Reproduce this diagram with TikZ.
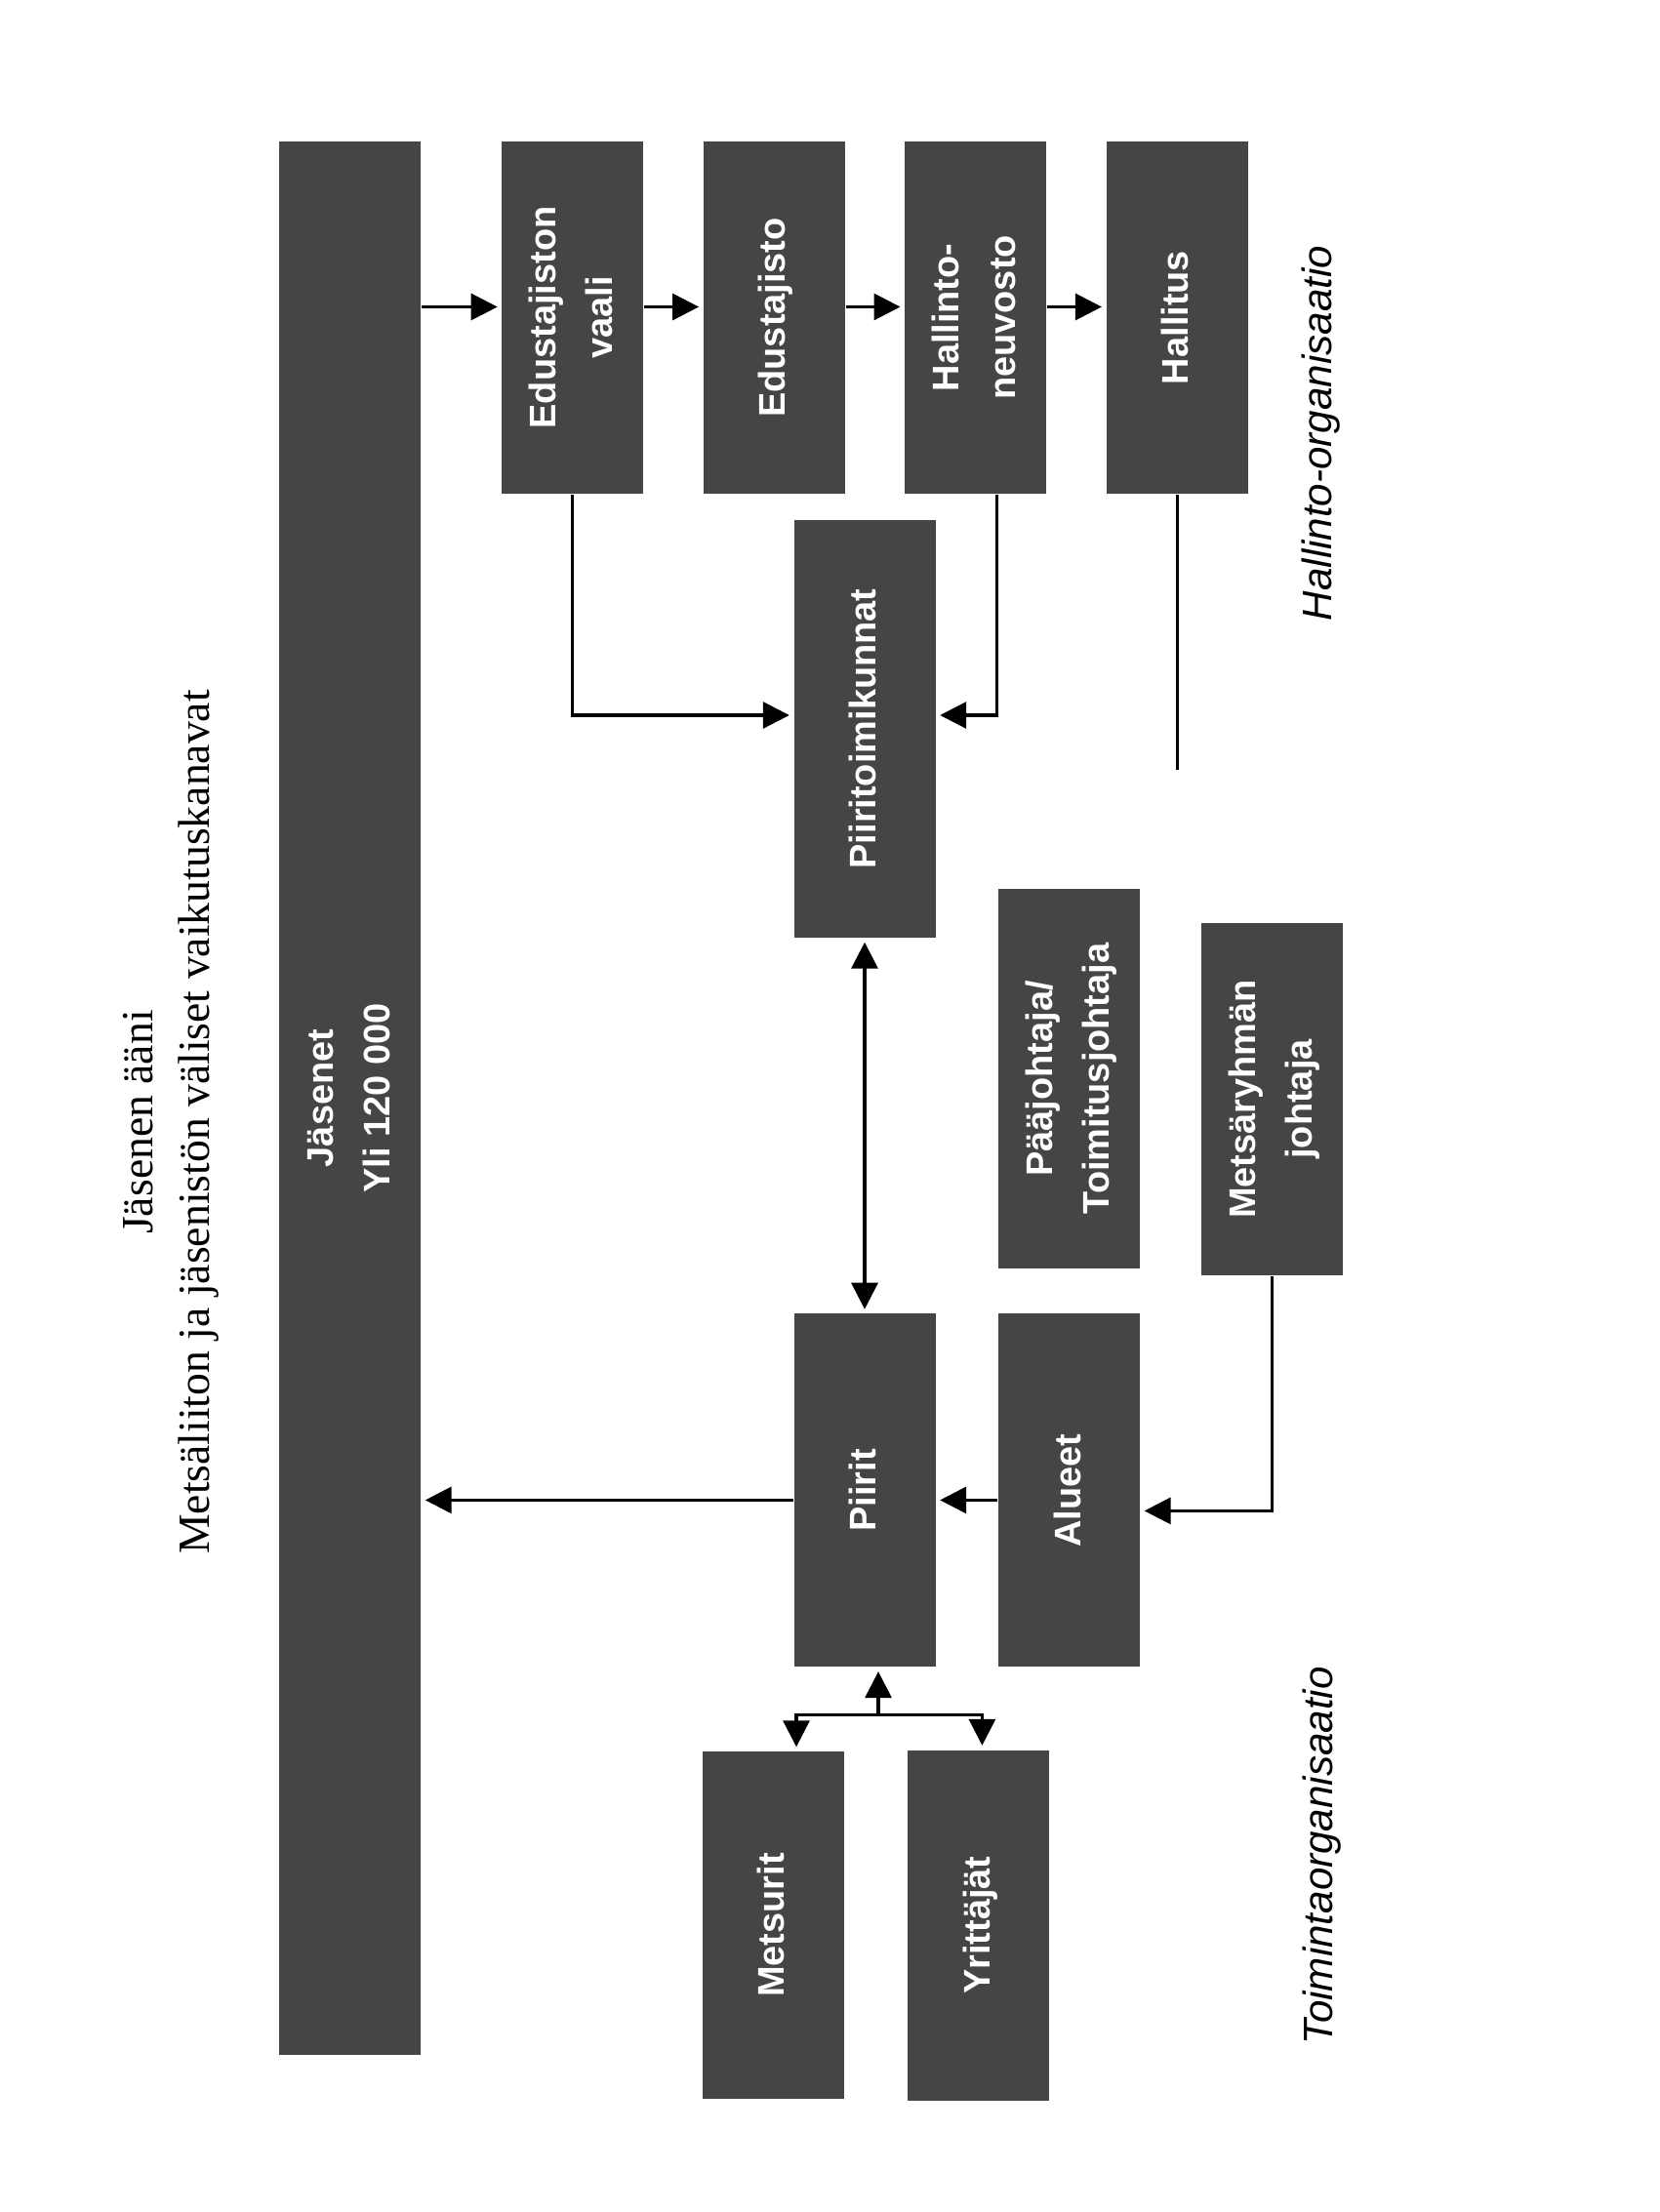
\documentclass[tikz,border=0pt]{standalone}
\usepackage{fontspec}
\setmainfont{Liberation Serif}
\setsansfont{Liberation Sans}
\usepackage{graphicx}
\usepackage{tikz}
\usetikzlibrary{arrows.meta, positioning, calc}

\definecolor{boxgray}{RGB}{69,69,69}
\newcommand{\vlabel}[1]{\rotatebox{90}{\begin{tabular}{@{}c@{}}#1\end{tabular}}}

\begin{document}
\begin{tikzpicture}[
        node distance=0.6cm,
        box/.style={
            fill=boxgray,
            text=white,
            minimum width=1.45cm,
            inner sep=0pt,
            font=\sffamily\bfseries\fontsize{10.8}{16.5}\selectfont
        },
        heading/.style={font=\rmfamily\fontsize{13}{16.5}\selectfont},
        orglabel/.style={font=\sffamily\itshape\fontsize{12}{14}\selectfont},
        arrow/.style={-{Triangle[length=2.7mm, width=2.7mm]}, line width=0.9pt, shorten >=0.4mm},
        dblarrow/.style={arrow, {Triangle[length=2.7mm, width=2.7mm]}-{Triangle[length=2.7mm, width=2.7mm]}, shorten <=0.4mm},
        link/.style={line width=0.9pt}
    ]

        \useasboundingbox (0,0) rectangle (17,-22.67);

        % Otsikko
        \node[heading] (title) at (1.74,-11.5)
            {\vlabel{Jäsenen ääni\\Metsäliiton ja jäsenistön väliset vaikutuskanavat}};

        % Jäsenet
        \node[box, minimum height=19.61cm] (jasenet) at (3.585,-11.255)
            {\vlabel{Jäsenet\\Yli 120 000}};

        % Hallinto-organisaatio
        \node[box, minimum height=3.61cm, below right=0cm and 0.82cm of jasenet.north east]
            (vaali) {\vlabel{Edustajiston\\vaali}};

        \node[box, minimum height=3.61cm, right=of vaali]
            (edustajisto) {\vlabel{Edustajisto}};

        \node[box, minimum height=3.61cm, right=of edustajisto]
            (neuvosto) {\vlabel{Hallinto-\\neuvosto}};

        \node[box, minimum height=3.61cm, right=of neuvosto]
            (hallitus) {\vlabel{Hallitus}};

        \node[box, minimum height=4.28cm] (piiritmk) at (8.86,-7.47)
            {\vlabel{Piiritoimikunnat}};

        % Toimintaorganisaatio
        \node[box, minimum height=3.62cm, below=3.84cm of piiritmk]
            (piirit) {\vlabel{Piirit}};

        \node[box, minimum height=3.62cm, right=0.63cm of piirit]
            (alueet) {\vlabel{Alueet}};

        \node[box, minimum height=3.89cm, above=0.45cm of alueet]
            (paajohtaja) {\vlabel{Pääjohtaja/\\Toimitusjohtaja}};

        \node[box, minimum height=3.61cm] (metsaryhma) at (13.035,-11.265)
            {\vlabel{Metsäryhmän\\johtaja}};

        \node[box, minimum height=3.56cm] (metsurit) at (7.92,-19.73)
            {\vlabel{Metsurit}};

        \node[box, minimum height=3.59cm, right=0.64cm of metsurit]
            (yrittajat) {\vlabel{Yrittäjät}};

        % Organisaatioiden nimet
        \node[orglabel] (hallintoorg) at (13.54,-4.44) {\rotatebox{90}{Hallinto-organisaatio}};
        \node[orglabel] (toimintaorg) at (13.55,-19.02) {\rotatebox{90}{Toimintaorganisaatio}};

        % Ylärivin nuolet
        \coordinate (toprow) at ($(vaali.west)+(0,0.11)$);
        \draw[arrow] (toprow -| jasenet.east) -- (toprow);
        \draw[arrow] (toprow -| vaali.east) -- (toprow -| edustajisto.west);
        \draw[arrow] (toprow -| edustajisto.east) -- (toprow -| neuvosto.west);
        \draw[arrow] (toprow -| neuvosto.east) -- (toprow -| hallitus.west);

        % Piiritoimikuntiin
        \coordinate (ptk) at ($(piiritmk.west)+(0,0.14)$);
        \draw[arrow] (vaali.south) |- (ptk);
        \draw[arrow] ($(neuvosto.south)+(0.22,0)$) |- (ptk -| piiritmk.east);

        % Hallituksen alla oleva viiva
        \coordinate (hallend) at ($(hallitus.south)+(0,-2.82)$);
        \draw[link] (hallitus.south) -- (hallend);

        % Piiritoimikunnat <-> Piirit
        \draw[dblarrow] (piiritmk.south) -- (piirit.north);

        % Keskirivin nuolet
        \coordinate (midrow) at ($(piirit.west)+(0,-0.1)$);
        \draw[arrow] (midrow) -- (midrow -| jasenet.east);
        \draw[arrow] (midrow -| alueet.west) -- (midrow -| piirit.east);
        \draw[arrow] (metsaryhma.south) |- ([yshift=-2.1mm]alueet.east);

        % Haarautuminen metsureihin ja yrittäjiin
        \coordinate (fork) at ($(piirit.south)+(0.14,-0.48)$);
        \draw[arrow] (fork) -- (fork |- piirit.south);
        \draw[arrow] (fork) -| ($(metsurit.north)+(0.24,0)$);
        \draw[arrow] (fork) -| ($(yrittajat.north)+(0.04,0)$);

    \end{tikzpicture}
\end{document}
